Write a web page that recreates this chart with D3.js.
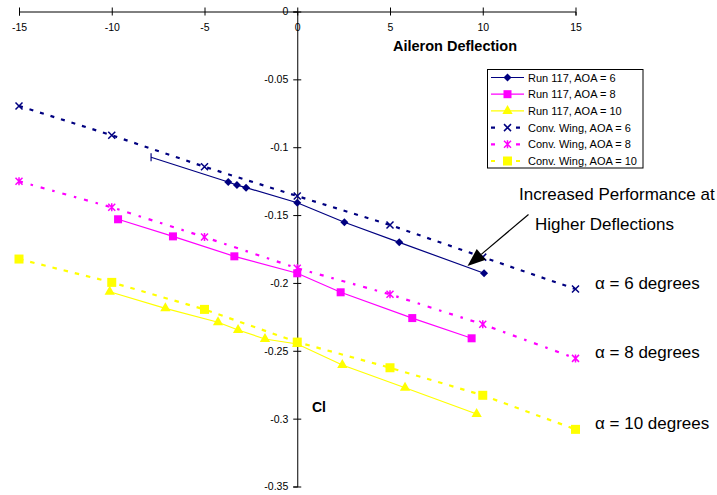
<!DOCTYPE html>
<html>
<head>
<meta charset="utf-8">
<script src="https://cdn.jsdelivr.net/npm/d3@7"></script>
<style>
  html, body { margin: 0; padding: 0; background: #fff; }
  svg { display: block; font-family: "Liberation Sans", Arial, sans-serif; }
</style>
</head>
<body>
<svg id="chart" width="717" height="495"></svg>
<script>
// Aileron deflection (deg) for the conventional wing series
const deflection = [-15, -10, -5, 0, 5, 10, 15];
const conv6  = [-0.0696, -0.0912, -0.1144, -0.1360, -0.1573, -0.1810, -0.2045];
const conv8  = [-0.1251, -0.1443, -0.1662, -0.1892, -0.2084, -0.2305, -0.2556];
const conv10 = [-0.1824, -0.1996, -0.2195, -0.2436, -0.2625, -0.2828, -0.3079];

// Run 117 measurements
const run6X  = [-7.88, -3.72, -3.25, -2.76, 0, 2.54, 5.50, 10.07];
const run6Y  = [-0.1074, -0.1256, -0.1279, -0.1298, -0.1409, -0.1553, -0.1701, -0.1929];
const run8X  = [-9.66, -6.70, -3.39, 0, 2.34, 6.20, 9.40];
const run8Y  = [-0.1531, -0.1657, -0.1804, -0.1929, -0.2069, -0.2259, -0.2408];
const run10X = [-10.11, -7.11, -4.27, -3.19, -1.74, 0, 2.43, 5.81, 9.67];
const run10Y = [-0.2065, -0.2187, -0.2290, -0.2347, -0.2413, -0.2450, -0.2605, -0.2772, -0.2966];

const xTicks = [-15, -10, -5, 0, 5, 10, 15];
const yTicks = [0, -0.05, -0.1, -0.15, -0.2, -0.25, -0.3, -0.35];

const legendLabels = [
  "Run 117, AOA = 6", "Run 117, AOA = 8", "Run 117, AOA = 10",
  "Conv. Wing, AOA = 6", "Conv. Wing, AOA = 8", "Conv. Wing, AOA = 10"
];
const alphaLabels = ["\u03B1 = 6 degrees", "\u03B1 = 8 degrees", "\u03B1 = 10 degrees"];
const alphaValues = [-0.2045, -0.2556, -0.3079];

const NAVY = "#000080", PINK = "#FF00FF", YELLOW = "#FFFF00";

const svg = d3.select("#chart");
const x = d3.scaleLinear().domain([-15, 15]).range([19, 575.5]);
const y = d3.scaleLinear().domain([0, -0.35]).range([11.5, 486.5]);

// ---- axes (crossing at the origin, labels outside) ----
const xAxis = svg.append("g")
  .attr("transform", `translate(0,${y(0)})`)
  .call(d3.axisBottom(x).tickValues(xTicks).tickFormat(d => String(d)).tickSizeOuter(0).tickSize(4));
xAxis.selectAll(".tick line").attr("y1", -4).attr("y2", 4).attr("stroke", "#000");
xAxis.selectAll(".tick text").attr("y", 12.5).attr("font-size", "10.5px")
  .attr("font-family", "Liberation Sans, Arial, sans-serif").attr("fill", "#000");
xAxis.select(".domain").attr("stroke", "#000");

const yAxis = svg.append("g")
  .attr("transform", `translate(${x(0)},0)`)
  .call(d3.axisLeft(y).tickValues(yTicks).tickFormat(d => String(d)).tickSizeOuter(0).tickSize(4));
yAxis.selectAll(".tick line").attr("x1", -4).attr("x2", 4).attr("stroke", "#000");
yAxis.selectAll(".tick text").attr("x", -9).attr("font-size", "10.5px")
  .attr("font-family", "Liberation Sans, Arial, sans-serif").attr("fill", "#000");
yAxis.select(".domain").attr("stroke", "#000");

svg.append("text").attr("x", 455).attr("y", 51).attr("text-anchor", "middle")
  .attr("font-size", "14.5px").attr("font-weight", "bold").text("Aileron Deflection");
svg.append("text").attr("x", 312).attr("y", 412)
  .attr("font-size", "14px").attr("font-weight", "bold").text("Cl");

// ---- marker painters ----
const markers = {
  diamond: (g, color) => g.append("path").attr("d", "M0,-4L4,0L0,4L-4,0Z")
    .attr("fill", color),
  square: (g, color) => g.append("rect").attr("x", -4).attr("y", -4).attr("width", 8).attr("height", 8)
    .attr("fill", color),
  triangle: (g, color) => g.append("path").attr("d", d3.symbol(d3.symbolTriangle, 46)())
    .attr("fill", color),
  cross: (g, color) => g.append("path").attr("d", "M-3.5,-3.5L3.5,3.5M-3.5,3.5L3.5,-3.5")
    .attr("stroke", color).attr("stroke-width", 1.5).attr("fill", "none"),
  star: (g, color) => g.append("path").attr("d", "M-3.5,-3.5L3.5,3.5M-3.5,3.5L3.5,-3.5M0,-4L0,4")
    .attr("stroke", color).attr("stroke-width", 1.5).attr("fill", "none"),
  bigsquare: (g, color) => g.append("rect").attr("x", -4.5).attr("y", -4.5).attr("width", 9).attr("height", 9)
    .attr("fill", color),
  tick: (g, color) => g.append("path").attr("d", "M0,-4L0,4")
    .attr("stroke", color).attr("stroke-width", 1.2)
};

const line = d3.line().x(d => x(d[0])).y(d => y(d[1]));

const series = [
  { xs: deflection, ys: conv6,  color: NAVY,   dash: "4,7",       width: 2.2, marker: "cross" },
  { xs: deflection, ys: conv8,  color: PINK,   dash: "4,8,2.5,8", width: 2.2, marker: "star" },
  { xs: deflection, ys: conv10, color: YELLOW, dash: "4.5,7",     width: 2.2, marker: "bigsquare" },
  { xs: run6X,  ys: run6Y,  color: NAVY,   dash: null, width: 1.2, marker: "diamond", first: "tick" },
  { xs: run8X,  ys: run8Y,  color: PINK,   dash: null, width: 1.2, marker: "square" },
  { xs: run10X, ys: run10Y, color: YELLOW, dash: null, width: 1.2, marker: "triangle" }
];

series.forEach(s => {
  const pts = s.xs.map((v, i) => [v, s.ys[i]]);
  svg.append("path").attr("d", line(pts)).attr("fill", "none")
    .attr("stroke", s.color).attr("stroke-width", s.width)
    .attr("stroke-dasharray", s.dash);
  pts.forEach((p, i) => {
    const g = svg.append("g").attr("transform", `translate(${x(p[0])},${y(p[1])})`);
    markers[(i === 0 && s.first) ? s.first : s.marker](g, s.color);
  });
});

// ---- legend ----
const legendOrder = [3, 4, 5, 0, 1, 2];
const lg = svg.append("g");
lg.append("rect").attr("x", 487.5).attr("y", 69.5).attr("width", 155.5).attr("height", 98.5)
  .attr("fill", "#fff").attr("stroke", "#000").attr("stroke-width", 1);
legendLabels.forEach((lab, i) => {
  const s = series[legendOrder[i]];
  const cy = 77.5 + i * 16.7;
  const seg = lg.append("line").attr("x1", 491).attr("x2", 524).attr("y1", cy).attr("y2", cy)
    .attr("stroke", s.color).attr("stroke-width", s.dash ? 2.2 : 1.2);
  if (s.dash) seg.attr("stroke-dasharray", "4,21,4,10");
  const g = lg.append("g").attr("transform", `translate(507.5,${cy})`);
  markers[s.marker](g, s.color);
  lg.append("text").attr("x", 528).attr("y", cy + 4).attr("font-size", "11px").text(lab);
});

// ---- annotations ----
svg.append("text").attr("x", 519).attr("y", 200).attr("font-size", "17px").text("Increased Performance at");
svg.append("text").attr("x", 535).attr("y", 230).attr("font-size", "17px").text("Higher Deflections");

const tip = [467.5, 266], tail = [528.5, 214.5];
const ang = Math.atan2(tail[1] - tip[1], tail[0] - tip[0]);
const headLen = 18, headHalf = 7;
const bx = tip[0] + headLen * Math.cos(ang), by = tip[1] + headLen * Math.sin(ang);
svg.append("line").attr("x1", tail[0]).attr("y1", tail[1]).attr("x2", bx).attr("y2", by)
  .attr("stroke", "#000").attr("stroke-width", 1.2);
svg.append("path")
  .attr("d", `M${tip[0]},${tip[1]}L${bx - headHalf * Math.sin(ang)},${by + headHalf * Math.cos(ang)}L${bx + headHalf * Math.sin(ang)},${by - headHalf * Math.cos(ang)}Z`)
  .attr("fill", "#000");

alphaLabels.forEach((lab, i) => {
  svg.append("text").attr("x", 595).attr("y", y(alphaValues[i]) - 0.5)
    .attr("font-size", "17px").text(lab);
});
</script>
</body>
</html>
